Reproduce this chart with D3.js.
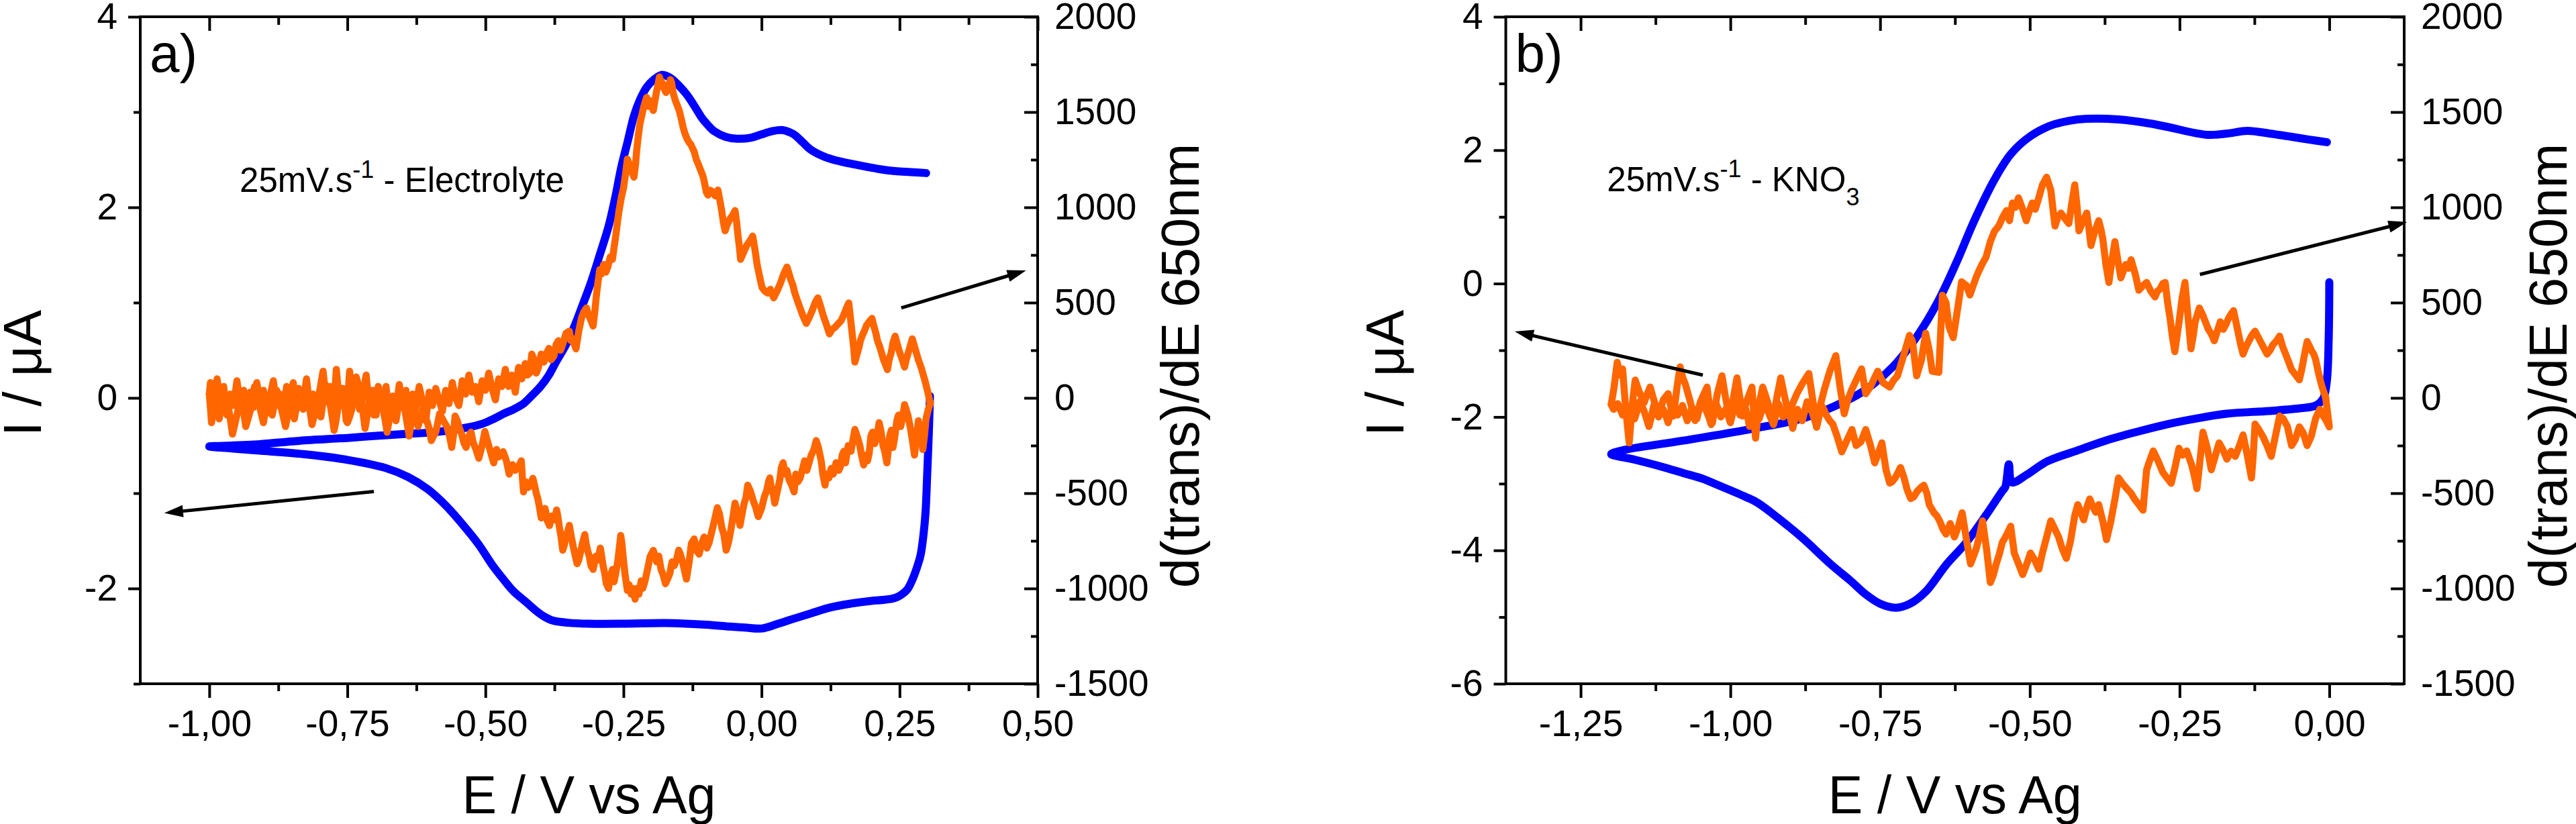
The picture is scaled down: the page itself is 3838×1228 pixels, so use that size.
<!DOCTYPE html>
<html><head><meta charset="utf-8">
<script src="https://cdn.jsdelivr.net/npm/d3@7"></script>
<style>
body{margin:0;background:#fff}
svg{display:block}
text{font-family:"Liberation Sans",Arial,Helvetica,sans-serif;fill:#000}
</style>
</head><body>
<svg id="chart" width="3838" height="1228"></svg>
<script>
// ---------- DATA ----------
// Panel a : cyclic voltammogram (I / µA), left axis
const cvA = [[0.305,0.02],[0.303,-0.35],[0.300,-0.80],[0.297,-1.20],[0.293,-1.45],[0.288,-1.65],[0.282,-1.77],[0.273,-1.91],[0.264,-2.01],[0.252,-2.07],[0.241,-2.10],[0.22,-2.12],[0.199,-2.13],[0.16,-2.16],[0.124,-2.20],[0.09,-2.26],[0.059,-2.316],[0.03,-2.37],[0.0,-2.42],[-0.03,-2.41],[-0.057,-2.40],[-0.10,-2.38],[-0.174,-2.363],[-0.25,-2.37],[-0.313,-2.37],[-0.35,-2.36],[-0.378,-2.337],[-0.395,-2.29],[-0.406,-2.245],[-0.425,-2.15],[-0.449,-2.03],[-0.468,-1.90],[-0.488,-1.75],[-0.512,-1.54],[-0.541,-1.33],[-0.57,-1.14],[-0.604,-0.96],[-0.64,-0.83],[-0.681,-0.735],[-0.75,-0.65],[-0.83,-0.59],[-0.914,-0.552],[-0.96,-0.53],[-1.00,-0.51],
[-0.96,-0.50],[-0.919,-0.49],[-0.837,-0.45],[-0.75,-0.42],[-0.702,-0.40],[-0.65,-0.38],[-0.593,-0.36],[-0.539,-0.317],[-0.505,-0.27],[-0.485,-0.22],[-0.465,-0.16],[-0.449,-0.12],[-0.431,-0.06],[-0.415,0.03],[-0.40,0.12],[-0.385,0.24],[-0.371,0.39],[-0.355,0.55],[-0.339,0.75],[-0.325,0.96],[-0.309,1.21],[-0.293,1.50],[-0.277,1.80],[-0.265,2.10],[-0.254,2.42],[-0.242,2.70],[-0.231,2.96],[-0.22,3.13],[-0.208,3.26],[-0.195,3.34],[-0.181,3.39],[-0.172,3.38],[-0.163,3.35],[-0.15,3.28],[-0.135,3.18],[-0.12,3.05],[-0.107,2.93],[-0.095,2.85],[-0.086,2.80],[-0.065,2.74],[-0.044,2.72],[-0.02,2.73],[-0.003,2.76],[0.02,2.80],[0.039,2.81],[0.050,2.79],[0.060,2.76],[0.075,2.68],[0.088,2.61],[0.11,2.54],[0.130,2.50],[0.16,2.46],[0.186,2.43],[0.215,2.40],[0.242,2.38],[0.27,2.37],[0.298,2.36]];

// Panel a : d(trans)/dE 650nm, right axis - cathodic branch (0.30 -> -1.00)
const dtA_down = [[0.306,-25],[0.302,-60],[0.298,-109],[0.295,-200],[0.292,-271],[0.289,-150],[0.287,-180],[0.284,-120],[0.282,-176],[0.279,-250],[0.277,-300],[0.273,-220],[0.27,-165],[0.265,-90],[0.259,-35],[0.255,-110],[0.252,-150],[0.248,-90],[0.245,-120],[0.241,-210],[0.238,-260],[0.235,-170],[0.232,-200],[0.229,-290],[0.227,-341],[0.223,-280],[0.22,-250],[0.216,-170],[0.213,-130],[0.209,-200],[0.205,-240],[0.201,-180],[0.198,-200],[0.195,-290],[0.192,-330],[0.188,-300],[0.185,-352],[0.181,-300],[0.178,-250],[0.173,-200],[0.169,-165],[0.165,-230],[0.162,-280],[0.157,-250],[0.152,-341],[0.149,-280],[0.146,-300],[0.143,-360],[0.14,-380],[0.135,-340],[0.13,-400],[0.126,-370],[0.122,-420],[0.118,-400],[0.115,-458],[0.111,-400],[0.108,-330],[0.103,-260],[0.099,-224],[0.095,-270],[0.09,-300],[0.086,-340],[0.082,-380],[0.078,-330],[0.074,-376],[0.07,-420],[0.066,-440],[0.062,-400],[0.059,-493],[0.055,-460],[0.05,-430],[0.046,-380],[0.043,-400],[0.039,-340],[0.036,-365],[0.033,-430],[0.03,-470],[0.027,-510],[0.024,-552],[0.021,-500],[0.018,-480],[0.015,-420],[0.013,-435],[0.009,-490],[0.005,-520],[0.0,-580],[-0.006,-623],[-0.011,-570],[-0.015,-540],[-0.02,-490],[-0.025,-458],[-0.028,-520],[-0.032,-560],[-0.036,-620],[-0.039,-669],[-0.044,-600],[-0.048,-552],[-0.052,-630],[-0.056,-700],[-0.06,-760],[-0.064,-799],[-0.068,-720],[-0.072,-680],[-0.076,-610],[-0.080,-576],[-0.085,-640],[-0.09,-700],[-0.095,-760],[-0.099,-788],[-0.104,-730],[-0.108,-760],[-0.113,-820],[-0.118,-800],[-0.122,-740],[-0.127,-764],[-0.131,-860],[-0.136,-951],[-0.14,-900],[-0.143,-860],[-0.147,-820],[-0.150,-799],[-0.154,-850],[-0.158,-880],[-0.162,-860],[-0.166,-920],[-0.170,-950],[-0.174,-975],[-0.178,-930],[-0.182,-900],[-0.186,-830],[-0.19,-860],[-0.196,-800],[-0.202,-834],[-0.205,-880],[-0.208,-920],[-0.211,-960],[-0.215,-999],[-0.218,-960],[-0.222,-1030],[-0.226,-1000],[-0.229,-1056],[-0.233,-1000],[-0.236,-1030],[-0.24,-980],[-0.243,-1010],[-0.247,-930],[-0.25,-850],[-0.253,-760],[-0.255,-722],[-0.258,-800],[-0.26,-850],[-0.264,-920],[-0.267,-964],[-0.27,-900],[-0.274,-940],[-0.277,-1000],[-0.281,-975],[-0.284,-920],[-0.287,-880],[-0.29,-820],[-0.292,-788],[-0.296,-850],[-0.300,-830],[-0.305,-900],[-0.309,-880],[-0.312,-830],[-0.315,-800],[-0.318,-760],[-0.320,-717],[-0.324,-760],[-0.327,-800],[-0.331,-850],[-0.334,-870],[-0.338,-820],[-0.341,-780],[-0.345,-720],[-0.348,-669],[-0.351,-700],[-0.354,-720],[-0.357,-770],[-0.360,-799],[-0.363,-730],[-0.366,-680],[-0.369,-620],[-0.371,-588],[-0.375,-640],[-0.38,-620],[-0.384,-670],[-0.388,-644],[-0.392,-580],[-0.395,-600],[-0.399,-630],[-0.402,-576],[-0.405,-530],[-0.408,-500],[-0.411,-460],[-0.414,-422],[-0.418,-450],[-0.422,-470],[-0.427,-440],[-0.431,-493],[-0.433,-420],[-0.435,-330],[-0.44,-360],[-0.446,-380],[-0.451,-350],[-0.457,-400],[-0.462,-330],[-0.468,-282],[-0.472,-300],[-0.476,-310],[-0.48,-270],[-0.485,-341],[-0.489,-300],[-0.493,-260],[-0.497,-220],[-0.501,-176],[-0.506,-250],[-0.512,-317],[-0.517,-270],[-0.522,-236],[-0.526,-180],[-0.53,-200],[-0.535,-260],[-0.539,-236],[-0.543,-190],[-0.547,-160],[-0.551,-120],[-0.555,-95],[-0.558,-200],[-0.561,-260],[-0.565,-200],[-0.57,-150],[-0.576,-120],[-0.583,-83],[-0.587,-140],[-0.59,-180],[-0.594,-200],[-0.598,-224],[-0.602,-160],[-0.606,-120],[-0.61,-90],[-0.614,-60],[-0.618,-110],[-0.622,-150],[-0.626,-90],[-0.630,-40],[-0.634,-120],[-0.638,-200],[-0.642,-130],[-0.646,-60],[-0.650,-10],[-0.654,30],[-0.658,-50],[-0.662,-120],[-0.666,-70],[-0.670,-30],[-0.674,-110],[-0.678,-180],[-0.682,-110],[-0.686,-50],[-0.690,10],[-0.694,60],[-0.698,-20],[-0.702,-90],[-0.706,-50],[-0.710,-20],[-0.714,-90],[-0.718,-160],[-0.722,-70],[-0.726,20],[-0.730,70],[-0.734,110],[-0.738,20],[-0.742,-60],[-0.746,-100],[-0.750,-130],[-0.754,-40],[-0.758,40],[-0.762,10],[-0.766,-30],[-0.770,-110],[-0.774,-170],[-0.778,-90],[-0.782,-20],[-0.786,30],[-0.790,70],[-0.794,-20],[-0.798,-100],[-0.802,-60],[-0.806,-40],[-0.810,-90],[-0.814,-140],[-0.818,-60],[-0.822,10],[-0.826,-30],[-0.830,-60],[-0.834,0],[-0.838,50],[-0.842,-40],[-0.846,-110],[-0.850,-60],[-0.854,-20],[-0.858,-90],[-0.862,-150],[-0.866,-100],[-0.870,-50],[-0.874,0],[-0.878,40],[-0.882,-30],[-0.886,-90],[-0.890,-40],[-0.894,10],[-0.898,-60],[-0.902,-130],[-0.906,-80],[-0.910,-30],[-0.914,20],[-0.918,60],[-0.922,0],[-0.926,-70],[-0.930,-110],[-0.934,-150],[-0.938,-70],[-0.942,0],[-0.946,-40],[-0.950,-90],[-0.954,-140],[-0.958,-190],[-0.962,-110],[-0.966,-40],[-0.970,0],[-0.974,30],[-0.978,-40],[-0.982,-110],[-0.986,-60],[-0.990,-20],[-0.993,-80],[-0.996,-130],[-0.998,-50],[-1.000,20]];

// Panel a : anodic branch (-1.00 -> 0.30)
const dtA_up = [[-1.0,20],[-0.998,80],[-0.992,-60],[-0.986,100],[-0.980,-20],[-0.974,60],[-0.968,-90],[-0.962,20],[-0.956,-40],[-0.950,90],[-0.944,-30],[-0.938,40],[-0.932,-100],[-0.926,30],[-0.920,-50],[-0.914,80],[-0.908,-20],[-0.902,40],[-0.896,-80],[-0.890,10],[-0.884,90],[-0.878,-40],[-0.872,20],[-0.866,-70],[-0.860,60],[-0.854,-10],[-0.848,80],[-0.842,-60],[-0.836,30],[-0.830,-30],[-0.824,100],[-0.818,-50],[-0.812,20],[-0.806,-90],[-0.800,40],[-0.794,140],[-0.788,-20],[-0.782,60],[-0.776,-110],[-0.770,150],[-0.764,-40],[-0.758,50],[-0.752,-120],[-0.746,140],[-0.740,-30],[-0.734,70],[-0.728,-60],[-0.722,20],[-0.716,120],[-0.710,-50],[-0.704,40],[-0.698,-90],[-0.692,30],[-0.686,-40],[-0.680,60],[-0.674,-100],[-0.668,10],[-0.662,-60],[-0.656,70],[-0.650,-30],[-0.644,40],[-0.638,-110],[-0.632,20],[-0.626,-50],[-0.620,60],[-0.614,-20],[-0.608,-120],[-0.602,30],[-0.596,-40],[-0.590,50],[-0.584,-10],[-0.578,-70],[-0.572,40],[-0.566,-30],[-0.560,80],[-0.554,0],[-0.548,-40],[-0.542,90],[-0.536,20],[-0.530,120],[-0.524,30],[-0.518,60],[-0.512,-20],[-0.506,90],[-0.500,40],[-0.494,130],[-0.488,50],[-0.482,-10],[-0.476,100],[-0.470,60],[-0.464,150],[-0.458,60],[-0.452,120],[-0.446,30],[-0.440,160],[-0.434,100],[-0.428,180],[-0.424,120],[-0.420,130],[-0.416,230],[-0.412,200],[-0.408,130],[-0.404,160],[-0.399,230],[-0.394,188],[-0.39,230],[-0.385,260],[-0.381,200],[-0.376,220],[-0.372,280],[-0.368,300],[-0.364,250],[-0.36,280],[-0.354,340],[-0.348,350],[-0.345,300],[-0.342,310],[-0.339,280],[-0.336,257],[-0.331,350],[-0.326,420],[-0.322,450],[-0.317,472],[-0.314,440],[-0.311,420],[-0.308,400],[-0.305,377],[-0.302,450],[-0.299,540],[-0.296,610],[-0.293,673],[-0.29,650],[-0.286,700],[-0.282,660],[-0.278,690],[-0.274,740],[-0.270,727],[-0.267,790],[-0.264,850],[-0.261,920],[-0.258,983],[-0.254,1050],[-0.25,1100],[-0.246,1180],[-0.243,1253],[-0.24,1230],[-0.237,1210],[-0.234,1180],[-0.231,1158],[-0.228,1230],[-0.226,1300],[-0.223,1380],[-0.220,1441],[-0.217,1480],[-0.214,1520],[-0.211,1550],[-0.208,1577],[-0.205,1530],[-0.202,1560],[-0.199,1530],[-0.196,1508],[-0.193,1560],[-0.19,1610],[-0.187,1650],[-0.185,1684],[-0.182,1660],[-0.179,1650],[-0.176,1620],[-0.173,1603],[-0.17,1620],[-0.168,1640],[-0.165,1670],[-0.163,1657],[-0.16,1600],[-0.156,1560],[-0.152,1530],[-0.149,1508],[-0.145,1460],[-0.142,1420],[-0.139,1390],[-0.135,1360],[-0.131,1340],[-0.128,1330],[-0.125,1310],[-0.122,1293],[-0.118,1250],[-0.115,1230],[-0.111,1200],[-0.107,1172],[-0.104,1140],[-0.102,1110],[-0.1,1080],[-0.097,1064],[-0.093,1090],[-0.088,1080],[-0.084,1060],[-0.079,1091],[-0.075,1030],[-0.072,980],[-0.069,920],[-0.066,877],[-0.062,910],[-0.057,940],[-0.052,960],[-0.048,983],[-0.045,920],[-0.043,860],[-0.04,790],[-0.038,727],[-0.033,760],[-0.027,800],[-0.022,820],[-0.016,849],[-0.012,780],[-0.008,700],[-0.003,630],[0.001,579],[0.006,560],[0.011,550],[0.016,570],[0.022,525],[0.028,560],[0.034,600],[0.04,650],[0.046,687],[0.05,650],[0.053,620],[0.057,590],[0.060,553],[0.065,510],[0.07,470],[0.075,430],[0.081,391],[0.086,420],[0.092,460],[0.097,500],[0.102,525],[0.107,480],[0.112,430],[0.118,380],[0.123,336],[0.128,360],[0.133,370],[0.139,390],[0.144,405],[0.148,430],[0.151,450],[0.155,480],[0.158,498],[0.161,420],[0.164,340],[0.167,260],[0.169,188],[0.172,220],[0.176,260],[0.179,300],[0.182,324],[0.186,350],[0.19,380],[0.195,400],[0.200,417],[0.203,380],[0.207,340],[0.21,300],[0.214,269],[0.218,230],[0.221,200],[0.225,170],[0.228,148],[0.231,200],[0.235,240],[0.238,290],[0.242,324],[0.246,280],[0.25,240],[0.255,200],[0.259,162],[0.262,200],[0.266,240],[0.27,280],[0.273,310],[0.277,270],[0.28,240],[0.284,200],[0.287,176],[0.29,150],[0.293,120],[0.296,90],[0.298,67],[0.302,20],[0.305,-25]];

// Panel b : cyclic voltammogram (KNO3)
const cvB = [[0.000,0.02],[-0.001,-0.8],[-0.004,-1.45],[-0.010,-1.72],[-0.023,-1.83],[-0.05,-1.87],[-0.10,-1.91],[-0.171,-1.95],[-0.22,-2.02],[-0.271,-2.11],[-0.32,-2.22],[-0.372,-2.35],[-0.42,-2.50],[-0.472,-2.67],[-0.506,-2.87],[-0.530,-2.98],[-0.535,-2.71],[-0.541,-3.05],[-0.546,-3.11],[-0.573,-3.47],[-0.606,-3.88],[-0.640,-4.22],[-0.674,-4.62],[-0.70,-4.80],[-0.724,-4.86],[-0.75,-4.80],[-0.774,-4.66],[-0.80,-4.45],[-0.831,-4.22],[-0.879,-3.82],[-0.903,-3.64],[-0.954,-3.29],[-0.974,-3.20],[-1.029,-2.99],[-1.045,-2.93],[-1.079,-2.84],[-1.117,-2.74],[-1.16,-2.64],[-1.199,-2.556],
[-1.18,-2.50],[-1.079,-2.355],[-0.959,-2.17],[-0.879,-2.02],[-0.829,-1.85],[-0.779,-1.62],[-0.729,-1.25],[-0.689,-0.80],[-0.654,-0.28],[-0.619,0.39],[-0.595,0.90],[-0.559,1.56],[-0.532,1.94],[-0.499,2.21],[-0.465,2.37],[-0.435,2.44],[-0.405,2.47],[-0.352,2.46],[-0.30,2.40],[-0.271,2.35],[-0.204,2.23],[-0.17,2.25],[-0.137,2.29],[-0.10,2.25],[-0.070,2.21],[-0.035,2.16],[-0.004,2.12]];

// Panel b : cathodic branch of d(trans)/dE
const dtB_down = [[-0.006,0],[0.0,-152],[-0.005,-120],[-0.010,-95],[-0.016,-60],[-0.023,-109],[-0.030,-200],[-0.037,-250],[-0.044,-180],[-0.050,-152],[-0.057,-220],[-0.063,-250],[-0.070,-150],[-0.077,-109],[-0.083,-95],[-0.090,-200],[-0.097,-307],[-0.104,-250],[-0.110,-208],[-0.117,-170],[-0.124,-137],[-0.127,-300],[-0.130,-420],[-0.137,-300],[-0.144,-194],[-0.150,-250],[-0.157,-307],[-0.164,-280],[-0.171,-321],[-0.178,-270],[-0.184,-236],[-0.190,-300],[-0.197,-377],[-0.204,-260],[-0.211,-180],[-0.216,-330],[-0.221,-476],[-0.226,-400],[-0.230,-350],[-0.238,-278],[-0.245,-300],[-0.251,-264],[-0.258,-370],[-0.264,-448],[-0.271,-420],[-0.278,-391],[-0.286,-330],[-0.294,-278],[-0.300,-330],[-0.305,-377],[-0.308,-480],[-0.311,-589],[-0.318,-560],[-0.325,-532],[-0.331,-500],[-0.338,-476],[-0.345,-450],[-0.352,-420],[-0.358,-532],[-0.365,-650],[-0.372,-744],[-0.378,-650],[-0.385,-560],[-0.390,-600],[-0.395,-570],[-0.400,-530],[-0.405,-575],[-0.410,-640],[-0.415,-600],[-0.420,-560],[-0.425,-617],[-0.432,-750],[-0.439,-842],[-0.446,-790],[-0.452,-730],[-0.458,-690],[-0.465,-645],[-0.472,-730],[-0.479,-814],[-0.485,-899],[-0.492,-850],[-0.499,-814],[-0.505,-870],[-0.512,-927],[-0.519,-870],[-0.526,-814],[-0.532,-673],[-0.539,-720],[-0.546,-758],[-0.551,-820],[-0.556,-870],[-0.561,-930],[-0.566,-969],[-0.572,-800],[-0.579,-645],[-0.584,-720],[-0.589,-786],[-0.594,-830],[-0.599,-871],[-0.606,-740],[-0.613,-603],[-0.620,-680],[-0.626,-730],[-0.633,-659],[-0.640,-715],[-0.645,-690],[-0.650,-650],[-0.655,-620],[-0.660,-603],[-0.668,-560],[-0.672,-500],[-0.677,-458],[-0.682,-470],[-0.688,-490],[-0.694,-520],[-0.699,-528],[-0.705,-480],[-0.710,-420],[-0.716,-365],[-0.720,-390],[-0.725,-420],[-0.730,-440],[-0.734,-447],[-0.740,-380],[-0.744,-300],[-0.747,-236],[-0.753,-290],[-0.759,-341],[-0.766,-250],[-0.774,-166],[-0.782,-230],[-0.790,-250],[-0.797,-166],[-0.805,-220],[-0.814,-283],[-0.822,-200],[-0.829,-137],[-0.834,-120],[-0.840,-90],[-0.844,-60],[-0.848,-40],[-0.852,-100],[-0.856,-150],[-0.860,-110],[-0.864,-70],[-0.868,-40],[-0.872,-20],[-0.876,-70],[-0.880,-120],[-0.884,-90],[-0.888,-60],[-0.892,-110],[-0.896,-160],[-0.900,-100],[-0.904,-50],[-0.908,-80],[-0.912,-100],[-0.916,-60],[-0.920,-30],[-0.924,-90],[-0.928,-140],[-0.932,-110],[-0.936,-80],[-0.940,-50],[-0.944,-20],[-0.948,-70],[-0.952,-110],[-0.956,-80],[-0.960,-60],[-0.964,-110],[-0.968,-150],[-0.972,-90],[-0.976,-40],[-0.980,-70],[-0.984,-90],[-0.988,-50],[-0.992,-20],[-0.996,-80],[-1.000,-130],[-1.004,-90],[-1.008,-60],[-1.012,-80],[-1.016,-100],[-1.020,-60],[-1.024,-30],[-1.028,-90],[-1.032,-140],[-1.036,-100],[-1.040,-70],[-1.044,-40],[-1.048,-10],[-1.052,-60],[-1.056,-110],[-1.060,-80],[-1.064,-50],[-1.068,-90],[-1.072,-120],[-1.076,-80],[-1.080,-40],[-1.084,-70],[-1.088,-90],[-1.092,-50],[-1.096,-20],[-1.100,-80],[-1.104,-130],[-1.108,-90],[-1.112,-60],[-1.116,-80],[-1.120,-100],[-1.124,-70],[-1.128,-40],[-1.132,-100],[-1.136,-150],[-1.140,-110],[-1.144,-70],[-1.148,-40],[-1.152,-20],[-1.156,-70],[-1.160,-110],[-1.164,-80],[-1.168,-60],[-1.174,-70],[-1.180,-90],[-1.184,-60],[-1.188,-30],[-1.192,-50],[-1.195,-60],[-1.199,-35]];

// Panel b : anodic branch of d(trans)/dE
const dtB_up = [[-1.199,-35],[-1.194,60],[-1.189,187],[-1.184,120],[-1.180,152],[-1.175,-50],[-1.169,-236],[-1.164,-40],[-1.159,93],[-1.152,30],[-1.144,-25],[-1.139,20],[-1.134,57],[-1.127,-20],[-1.119,-83],[-1.112,-10],[-1.104,22],[-1.100,-40],[-1.095,-95],[-1.089,60],[-1.084,163],[-1.080,110],[-1.075,70],[-1.067,-20],[-1.059,-119],[-1.050,-20],[-1.039,57],[-1.035,-40],[-1.030,-130],[-1.022,20],[-1.014,116],[-1.008,0],[-1.001,-119],[-0.995,0],[-0.989,105],[-0.985,20],[-0.980,-95],[-0.972,-10],[-0.964,57],[-0.958,-211],[-0.952,-30],[-0.946,57],[-0.938,-20],[-0.929,-119],[-0.922,10],[-0.916,105],[-0.909,0],[-0.902,-95],[-0.896,-30],[-0.889,22],[-0.879,80],[-0.869,128],[-0.862,-20],[-0.856,-154],[-0.850,-40],[-0.843,46],[-0.834,140],[-0.824,222],[-0.817,60],[-0.810,-83],[-0.804,-10],[-0.797,46],[-0.789,100],[-0.781,152],[-0.774,22],[-0.766,60],[-0.760,100],[-0.754,140],[-0.745,80],[-0.734,57],[-0.728,90],[-0.721,116],[-0.711,220],[-0.701,328],[-0.696,296],[-0.689,116],[-0.681,200],[-0.674,339],[-0.668,250],[-0.663,140],[-0.652,134],[-0.646,539],[-0.640,500],[-0.635,374],[-0.628,316],[-0.620,480],[-0.614,609],[-0.606,590],[-0.600,540],[-0.595,586],[-0.590,630],[-0.586,660],[-0.580,700],[-0.573,740],[-0.566,820],[-0.559,875],[-0.552,902],[-0.545,950],[-0.539,983],[-0.534,930],[-0.529,1023],[-0.524,1000],[-0.519,1050],[-0.512,990],[-0.506,930],[-0.501,980],[-0.496,1023],[-0.491,990],[-0.486,1040],[-0.479,1118],[-0.472,1158],[-0.465,1090],[-0.461,980],[-0.458,902],[-0.453,950],[-0.448,970],[-0.441,940],[-0.435,915],[-0.430,1020],[-0.425,1118],[-0.421,1000],[-0.418,877],[-0.411,930],[-0.405,970],[-0.401,880],[-0.398,800],[-0.392,870],[-0.385,930],[-0.381,880],[-0.378,830],[-0.373,700],[-0.368,606],[-0.363,720],[-0.358,820],[-0.353,720],[-0.348,630],[-0.340,700],[-0.335,680],[-0.331,725],[-0.324,650],[-0.318,565],[-0.311,590],[-0.305,606],[-0.298,560],[-0.291,530],[-0.287,560],[-0.283,570],[-0.278,600],[-0.274,606],[-0.270,500],[-0.266,420],[-0.262,320],[-0.258,243],[-0.254,330],[-0.250,420],[-0.246,520],[-0.241,606],[-0.236,430],[-0.231,258],[-0.227,330],[-0.224,400],[-0.217,472],[-0.212,440],[-0.207,400],[-0.202,360],[-0.197,336],[-0.192,300],[-0.187,350],[-0.182,400],[-0.177,360],[-0.172,390],[-0.168,420],[-0.164,440],[-0.160,458],[-0.156,400],[-0.152,340],[-0.148,280],[-0.144,230],[-0.139,270],[-0.134,300],[-0.129,330],[-0.124,350],[-0.119,320],[-0.114,290],[-0.109,260],[-0.104,230],[-0.099,250],[-0.094,280],[-0.088,300],[-0.083,324],[-0.078,270],[-0.073,230],[-0.068,190],[-0.063,148],[-0.056,120],[-0.050,95],[-0.046,150],[-0.043,200],[-0.040,250],[-0.037,296],[-0.033,270],[-0.030,250],[-0.026,230],[-0.023,204],[-0.018,130],[-0.013,67],[-0.006,0]];

// Axis domains and ticks
const xDomA = [-1.125, 0.5], xDomB = [-1.375, 0.125];
const yDomA = [-3, 4], yDomB = [-6, 4], rDom = [-1500, 2000];
const xTicksA = [-1.0, -0.75, -0.5, -0.25, 0.0, 0.25, 0.5];
const xMinorA = [-0.875, -0.625, -0.375, -0.125, 0.125, 0.375];
const xTicksB = [-1.25, -1.0, -0.75, -0.5, -0.25, 0.0];
const xMinorB = [-1.125, -0.875, -0.625, -0.375, -0.125];
const yTicksA = [4, 2, 0, -2], yMinorA = [3, 1, -1, -3];
const yTicksB = [4, 2, 0, -2, -4, -6], yMinorB = [3, 1, -1, -3, -5];
const rTicks = [2000, 1500, 1000, 500, 0, -500, -1000, -1500];
const rMinor = [1750, 1250, 750, 250, -250, -750, -1250];

// Annotations (data coordinates)
const labelsText = ["a)", "b)"];
const notesA = {pos: [-0.945, 2.165], main: "25mV.s", sup: "-1", rest: " - Electrolyte"};
const notesB = {pos: [-1.206, 1.384], main: "25mV.s", sup: "-1", rest: " - KNO", sub: "3"};
const arrowsA = [{from: [-0.702, -0.982], to: [-1.0815, -1.208], ax: "L"}, {from: [0.253, 472], to: [0.479, 669], ax: "R"}];
const arrowsB = [{from: [-1.046, -1.372], to: [-1.360, -0.718], ax: "L"}, {from: [-0.216, 648], to: [0.130, 923], ax: "R"}];

// ---------- DRAW ----------
const svg = d3.select("#chart");
svg.append("rect").attr("width", 3838).attr("height", 1228).attr("fill", "#fff");

const fmtX = v => (v < 0 ? "-" : "") + Math.abs(v).toFixed(2).replace(".", ",");
const fmtY = v => (v < 0 ? "-" : "") + Math.abs(v);

const panels = [
  {x0: 209, x1: 1546, xDom: xDomA, yDom: yDomA, xT: xTicksA, xM: xMinorA, yT: yTicksA, yM: yMinorA,
   cv: cvA, dt: [dtA_down, dtA_up], note: notesA, arrows: arrowsA, label: labelsText[0], lTitleX: 61, rTitleX: 1786},
  {x0: 2243.5, x1: 3582, xDom: xDomB, yDom: yDomB, xT: xTicksB, xM: xMinorB, yT: yTicksB, yM: yMinorB,
   cv: cvB, dt: [dtB_down, dtB_up], note: notesB, arrows: arrowsB, label: labelsText[1], lTitleX: 2091, rTitleX: 3824}
];
const plotTop = 25, plotBottom = 1019;
const AX = 4;

panels.forEach(p => {
  const x = d3.scaleLinear().domain(p.xDom).range([p.x0, p.x1]);
  const y = d3.scaleLinear().domain(p.yDom).range([plotBottom, plotTop]);
  const r = d3.scaleLinear().domain(rDom).range([plotBottom, plotTop]);
  const g = svg.append("g");

  function styleAxis(sel) {
    sel.select(".domain").remove();
    sel.selectAll("line").attr("stroke", "#000").attr("stroke-width", AX);
    sel.selectAll("text").attr("font-size", 55).attr("font-family", '"Liberation Sans",Arial,sans-serif').attr("fill", "#000");
  }
  // bottom
  g.append("g").attr("transform", `translate(0,${plotBottom})`)
    .call(d3.axisBottom(x).tickValues(p.xT).tickFormat(fmtX).tickSize(21).tickPadding(18)).call(styleAxis);
  g.append("g").attr("transform", `translate(0,${plotBottom})`)
    .call(d3.axisBottom(x).tickValues(p.xM).tickFormat("").tickSize(11)).call(styleAxis);
  // top (inward)
  g.append("g").attr("transform", `translate(0,${plotTop})`)
    .call(d3.axisTop(x).tickValues(p.xT).tickFormat("").tickSize(-21)).call(styleAxis);
  g.append("g").attr("transform", `translate(0,${plotTop})`)
    .call(d3.axisTop(x).tickValues(p.xM).tickFormat("").tickSize(-12)).call(styleAxis);
  // left
  g.append("g").attr("transform", `translate(${p.x0},0)`)
    .call(d3.axisLeft(y).tickValues(p.yT).tickFormat(fmtY).tickSize(18).tickPadding(16)).call(styleAxis);
  g.append("g").attr("transform", `translate(${p.x0},0)`)
    .call(d3.axisLeft(y).tickValues(p.yM).tickFormat("").tickSize(10)).call(styleAxis);
  // right (ticks inward)
  g.append("g").attr("transform", `translate(${p.x1},0)`)
    .call(d3.axisRight(r).tickValues(rTicks).tickFormat(fmtY).tickSize(-20).tickPadding(25)).call(styleAxis);
  g.append("g").attr("transform", `translate(${p.x1},0)`)
    .call(d3.axisRight(r).tickValues(rMinor).tickFormat("").tickSize(-10)).call(styleAxis);
  // frame
  g.append("rect").attr("x", p.x0).attr("y", plotTop).attr("width", p.x1 - p.x0).attr("height", plotBottom - plotTop)
    .attr("fill", "none").attr("stroke", "#000").attr("stroke-width", AX);

  // curves
  const lineL = d3.line().x(d => x(d[0])).y(d => y(d[1])).curve(d3.curveCatmullRom.alpha(0.5));
  const lineR = d3.line().x(d => x(d[0])).y(d => r(d[1]));
  g.append("path").attr("d", lineL(p.cv)).attr("fill", "none").attr("stroke", "#0000ff")
    .attr("stroke-width", 12).attr("stroke-linejoin", "round").attr("stroke-linecap", "round");
  p.dt.forEach(s => g.append("path").attr("d", lineR(s)).attr("fill", "none").attr("stroke", "#ff6600")
    .attr("stroke-width", 10.5).attr("stroke-linejoin", "round").attr("stroke-linecap", "round"));

  // arrows
  p.arrows.forEach(a => {
    const sc = a.ax === "L" ? y : r;
    const x1 = x(a.from[0]), y1 = sc(a.from[1]), x2 = x(a.to[0]), y2 = sc(a.to[1]);
    const ang = Math.atan2(y2 - y1, x2 - x1), L = 28, W = 9;
    const bx = x2 - L * Math.cos(ang), by = y2 - L * Math.sin(ang);
    g.append("line").attr("x1", x1).attr("y1", y1).attr("x2", bx + 2 * Math.cos(ang)).attr("y2", by + 2 * Math.sin(ang))
      .attr("stroke", "#000").attr("stroke-width", 5);
    const pts = [[x2, y2], [bx + W * Math.sin(ang), by - W * Math.cos(ang)], [bx - W * Math.sin(ang), by + W * Math.cos(ang)]];
    g.append("polygon").attr("points", pts.map(q => q.join(",")).join(" ")).attr("fill", "#000");
  });

  // panel label
  g.append("text").attr("x", p.x0 + 14).attr("y", plotTop + 82).attr("font-size", 80).text(p.label);

  // annotation
  const n = p.note;
  const t = g.append("text").attr("x", x(n.pos[0])).attr("y", y(n.pos[1])).attr("font-size", 51);
  t.append("tspan").text(n.main);
  t.append("tspan").attr("font-size", 36).attr("dy", -21).text(n.sup);
  t.append("tspan").attr("dy", 21).text(n.rest);
  if (n.sub) t.append("tspan").attr("font-size", 36).attr("dy", 21).text(n.sub);

  // axis titles
  g.append("text").attr("x", (p.x0 + p.x1) / 2).attr("y", 1212).attr("text-anchor", "middle")
    .attr("font-size", 80).attr("textLength", 378).attr("lengthAdjust", "spacingAndGlyphs").text("E / V vs Ag");
  g.append("text").attr("transform", `translate(${p.lTitleX},556) rotate(-90)`).attr("text-anchor", "middle")
    .attr("font-size", 80).text("I / \u03bcA");
  g.append("text").attr("transform", `translate(${p.rTitleX},545) rotate(-90)`).attr("text-anchor", "middle")
    .attr("font-size", 80).text("d(trans)/dE 650nm");
});
</script>
</body></html>
